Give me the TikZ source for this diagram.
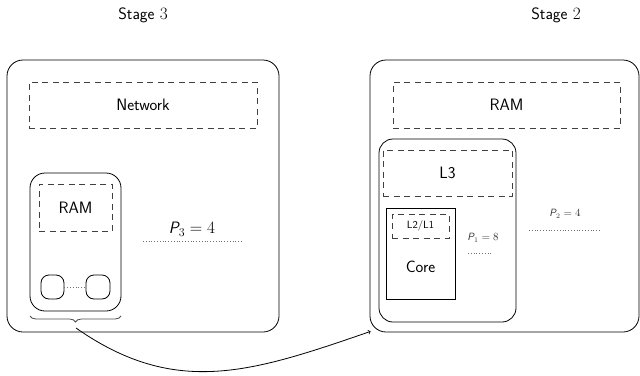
\documentclass[tikz,border=0pt]{standalone}
\usetikzlibrary{decorations.pathreplacing,calc}
\newcommand{\sfP}{{\sffamily\itshape P}}
\begin{document}
\begin{tikzpicture}[x=1pt,y=-1pt,
  every node/.style={font=\sffamily\fontsize{16.5}{19}\selectfont, inner sep=0pt},
  outerbox/.style={draw=black, line width=0.8pt, rounded corners=16pt},
  cachebox/.style={draw=black!75, line width=0.8pt, dash pattern=on 6pt off 4.5pt},
  smallbox/.style={draw=black, line width=0.8pt, rounded corners=8pt},
  corebox/.style={draw=black, line width=0.8pt},
  smalltext/.style={font=\sffamily\fontsize{10.5}{12}\selectfont},
  spread/.style={draw=black!55, line width=0.8pt, dotted},
]
\useasboundingbox (0,0) rectangle (640,375);

% ---- Stage 3 ----
\node (st3) at (143,15) {Stage $3$};
\node[outerbox, minimum width=272pt, minimum height=272pt] (outer3) at (143,196) {};
\node[cachebox, minimum width=228pt, minimum height=46pt] (net) at (143,105) {Network};
\node[outerbox, rounded corners=15pt, minimum width=91pt, minimum height=138pt] (node3) at (75.5,242) {};
\node[cachebox, minimum width=73pt, minimum height=47pt] (ram3) at (75.5,207.5) {RAM};
\node[smallbox, minimum width=23pt, minimum height=24pt] (c1) at (52.5,287) {};
\node[smallbox, minimum width=24pt, minimum height=24pt] (c2) at (98,287) {};
\draw[spread, line width=0.6pt] (c1.east) -- (c2.west);
\node (p3) at (192,229) {\sfP$_3 = 4$};
\coordinate (p3a) at (143,241);
\coordinate (p3b) at (242,241);
\draw[spread] (p3a) -- (p3b);

% brace under the node group
\coordinate (brl) at (30,316);
\coordinate (brr) at (121,316);
\draw[black!70, line width=0.8pt, decorate, decoration={brace, mirror, amplitude=6pt}] (brl) -- (brr);
\coordinate (brtip) at (76,328);

% ---- Stage 2 ----
\node (st2) at (556,15) {Stage $2$};
\node[outerbox, minimum width=269pt, minimum height=272pt] (outer2) at (504.5,196) {};
\node[cachebox, minimum width=227pt, minimum height=46pt] (ram2) at (506.5,105) {RAM};
\node[outerbox, rounded corners=14pt, minimum width=137pt, minimum height=183pt] (socket) at (447.5,230.5) {};
\node[cachebox, minimum width=129pt, minimum height=46pt] (l3) at (447.5,173) {L3};
\node[corebox, minimum width=69pt, minimum height=91pt] (core) at (420.5,253.5) {};
\node[cachebox, minimum width=57pt, minimum height=24pt, smalltext] (l2) at (420.5,226) {L2/L1};
\node (coretext) at (420.5,267) {Core};
\node[smalltext, text=black!80] (p1) at (483,238) {\sfP$_1 = 8$};
\coordinate (p1a) at (468,253);
\coordinate (p1b) at (492,253);
\draw[spread] (p1a) -- (p1b);
\node[smalltext, text=black!80] (p2) at (565,214) {\sfP$_2 = 4$};
\coordinate (p2a) at (529,230);
\coordinate (p2b) at (600,230);
\draw[spread] (p2a) -- (p2b);

% mapping arrow
\draw[->, line width=0.8pt] (brtip) .. controls +(35:122) and +(161:125) .. ($(outer2.south west)+(1,-1)$);
\end{tikzpicture}
\end{document}
